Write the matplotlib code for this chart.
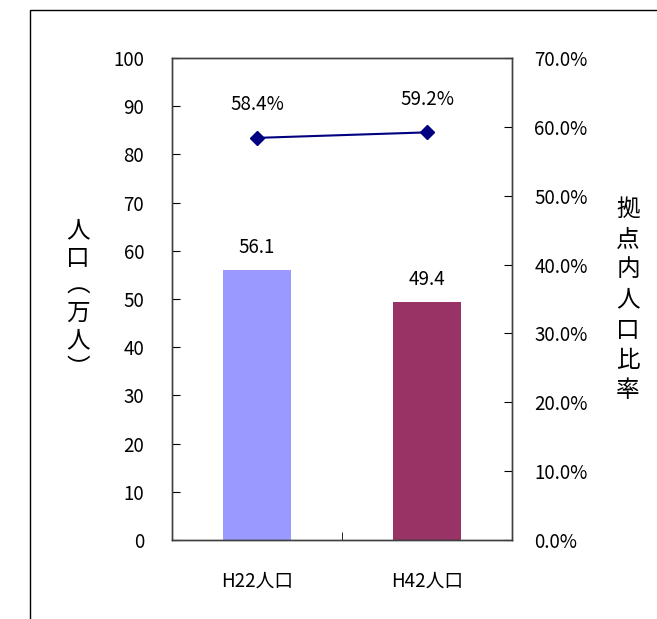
import matplotlib.pyplot as plt
from matplotlib.patches import Rectangle
from matplotlib.ticker import FuncFormatter

plt.rcParams['font.family'] = ['Noto Sans CJK JP', 'DejaVu Sans']

# data
categories = ['H22人口', 'H42人口']
population = [56.1, 49.4]          # 万人
ratio = [58.4, 59.2]               # %
bar_colors = ['#9999FF', '#993366']

fig = plt.figure(figsize=(6.57, 6.19), dpi=100)
W, H = 657, 619

# outer frame (runs off the right and bottom edge)
fig.patches.append(Rectangle((30 / W, -0.05), 1.1, 1 - 10 / H + 0.05,
                             transform=fig.transFigure, fill=False,
                             edgecolor='black', linewidth=1))

ax = fig.add_axes([172 / W, 1 - 540 / H, 340 / W, 482 / H])
x = [0, 1]
ax.bar(x, population, width=0.4, color=bar_colors, zorder=2)
ax.set_xlim(-0.5, 1.5)
ax.set_ylim(0, 100)
ax.set_yticks(range(0, 101, 10))
ax.set_xticks(x)
ax.set_xticklabels(categories, fontsize=13.5)
ax.set_xticks([0.5], minor=True)
ax.tick_params(axis='x', which='major', length=0, pad=22)
ax.tick_params(axis='x', which='minor', direction='in', length=6)
ax.tick_params(axis='y', direction='in', length=6, labelsize=13.5, pad=20)
for s in ax.spines.values():
    s.set_linewidth(1)
    s.set_color('#404040')
for xi, v in zip(x, population):
    ax.text(xi, v + 2.5, f'{v:.1f}', ha='center', va='bottom', fontsize=13.5)

ax2 = ax.twinx()
ax2.plot(x, ratio, color='#000080', marker='D', markersize=7, linewidth=1.5)
ax2.set_ylim(0, 70)
ax2.set_yticks(range(0, 71, 10))
ax2.yaxis.set_major_formatter(FuncFormatter(lambda v, p: f'{v:.1f}%'))
ax2.tick_params(axis='y', direction='in', length=6, labelsize=13.5, pad=16)
for s in ax2.spines.values():
    s.set_linewidth(1)
    s.set_color('#404040')
for xi, v in zip(x, ratio):
    ax2.text(xi, v + 3.3, f'{v:.1f}%', ha='center', va='bottom', fontsize=13.5)

# vertical stacked axis titles
fig.text(78 / W, 1 - 300 / H, '\n'.join('人口︵万人︶'), ha='center', va='center',
         fontsize=17, linespacing=1.25)
fig.text(628 / W, 1 - 300 / H, '\n'.join('拠点内人口比率'), ha='center', va='center',
         fontsize=17, linespacing=1.4)

fig.savefig('out.png', dpi=100)
